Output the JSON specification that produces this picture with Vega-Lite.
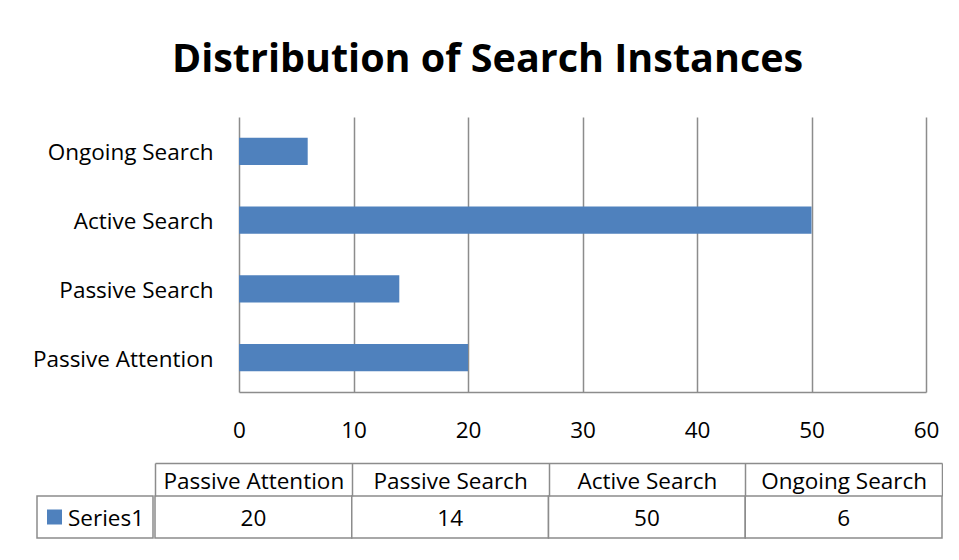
{
  "$schema": "https://vega.github.io/schema/vega-lite/v6.json",
  "padding": {"left": 32, "top": 39, "right": 0, "bottom": 0},
  "datasets": {
    "search": [
      {"category": "Passive Attention", "value": 20},
      {"category": "Passive Search", "value": 14},
      {"category": "Active Search", "value": 50},
      {"category": "Ongoing Search", "value": 6}
    ],
    "series": [{"series": "Series1"}]
  },
  "title": {
    "text": "Distribution of Search Instances",
    "font": "Open Sans",
    "fontSize": 39.5,
    "fontWeight": "bold",
    "color": "black",
    "anchor": "middle",
    "frame": "bounds",
    "offset": 37
  },
  "config": {
    "view": {"stroke": null},
    "font": "Open Sans",
    "axis": {"labelFont": "Open Sans", "labelColor": "black"}
  },
  "spacing": 20,
  "vconcat": [
    {
      "spacing": 0,
      "bounds": "flush",
      "hconcat": [
        {
          "width": 202,
          "height": 275,
          "data": {"values": []},
          "mark": "rect"
        },
        {
          "width": 687,
          "height": 275,
          "data": {"name": "search"},
          "mark": {"type": "bar", "color": "#4f81bd"},
          "encoding": {
            "y": {
              "field": "category",
              "type": "nominal",
              "sort": ["Ongoing Search", "Active Search", "Passive Search", "Passive Attention"],
              "scale": {"paddingInner": 0.607, "paddingOuter": 0.3035},
              "axis": {"title": null, "labelFontSize": 22.5, "labelPadding": 26, "labelOffset": 2, "ticks": false, "domain": false, "labelLimit": 300}
            },
            "x": {
              "field": "value",
              "type": "quantitative",
              "scale": {"domain": [0, 60], "nice": false},
              "axis": {"title": null, "values": [0, 10, 20, 30, 40, 50, 60], "labelFontSize": 22.5, "labelPadding": 27, "ticks": false, "domainColor": "#8c8c8c", "domainWidth": 1.5, "grid": true, "gridColor": "#8c8c8c", "gridWidth": 1.5, "labelFlush": false, "labelOverlap": false}
            }
          }
        }
      ]
    },
    {
      "spacing": 0,
      "hconcat": [
        {
          "width": 116,
          "height": 42,
          "view": {"stroke": "#8c8c8c", "strokeWidth": 1.5},
          "data": {"name": "series"},
          "layer": [
            {"mark": {"type": "square", "color": "#4f81bd", "size": 225, "opacity": 1, "xOffset": -40.5}},
            {"mark": {"type": "text", "align": "left", "baseline": "middle", "dx": -27, "dy": 1.5, "fontSize": 22.5, "color": "black"}, "encoding": {"text": {"field": "series"}}}
          ]
        },
        {
          "width": 787,
          "height": 42,
          "data": {"name": "search"},
          "encoding": {
            "x": {
              "field": "category",
              "type": "nominal",
              "sort": ["Passive Attention", "Passive Search", "Active Search", "Ongoing Search"],
              "scale": {"paddingInner": 0, "paddingOuter": 0},
              "axis": {"orient": "top", "title": null, "offset": 33, "labelAngle": 0, "labelFontSize": 22.5, "labelPadding": 15, "labelBaseline": "middle", "tickBand": "extent", "tickSize": -33, "tickColor": "#8c8c8c", "tickWidth": 1.5, "domainColor": "#8c8c8c", "domainWidth": 1.5, "labelLimit": 300}
            }
          },
          "layer": [
            {"mark": {"type": "rect", "fill": "white", "stroke": "#8c8c8c", "strokeWidth": 1.5}},
            {"mark": {"type": "text", "fontSize": 22.5, "baseline": "middle", "dy": 1.5, "color": "black"}, "encoding": {"text": {"field": "value", "type": "quantitative"}}}
          ]
        }
      ]
    }
  ]
}
